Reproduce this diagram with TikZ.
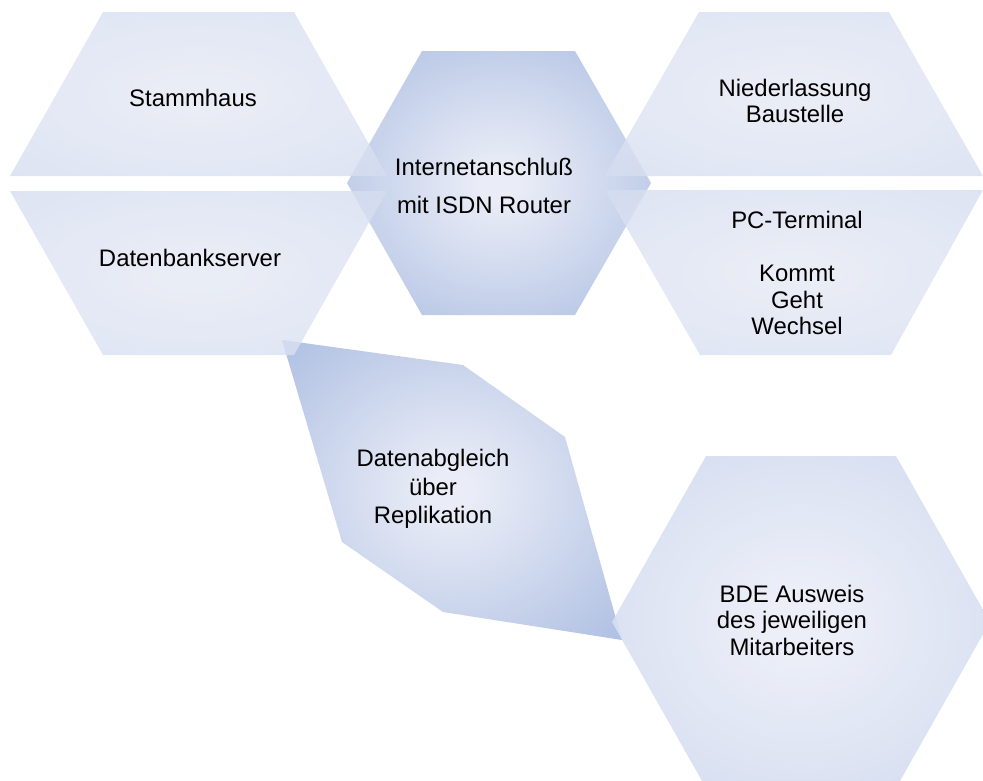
\documentclass[tikz,border=0pt]{standalone}
\usepackage{fontspec}
\setmainfont{Liberation Sans}
\definecolor{dkin}{RGB}{234,237,247}
\definecolor{dkout}{RGB}{162,182,222}
\definecolor{ltin}{RGB}{228,232,244}
\definecolor{ltout}{RGB}{206,216,237}
\definecolor{mdin}{RGB}{234,237,247}
\definecolor{mdout}{RGB}{192,206,234}
\pgfdeclareradialshading{darkrad}{\pgfpoint{0bp}{0bp}}{color(0bp)=(dkin); color(3bp)=(dkin); color(42bp)=(dkout); color(80bp)=(dkout)}
\pgfdeclareradialshading{lightrad}{\pgfpoint{0bp}{0bp}}{color(0bp)=(ltin); color(5bp)=(ltin); color(50bp)=(ltout); color(80bp)=(ltout)}
\pgfdeclareradialshading{medrad}{\pgfpoint{0bp}{0bp}}{color(0bp)=(mdin); color(5bp)=(mdin); color(48bp)=(mdout); color(80bp)=(mdout)}
\tikzset{
  darkhex/.style={shading=darkrad},
  lighthex/.style={shading=lightrad, fill opacity=0.8},
  medhex/.style={shading=medrad, fill opacity=0.9},
  lbl/.style={font=\fontsize{23.9}{25.5}\selectfont, align=center, inner sep=0pt, text=black}
}
\begin{document}
\begin{tikzpicture}[x=1pt,y=-1pt]
\useasboundingbox (0,0) rectangle (983,780);
\begin{scope}
\clip (0,0) rectangle (983,780);
% central hexagon
\shade[darkhex] (422,51) -- (575,51) -- (651,183) -- (575,315) -- (422,315) -- (347,183) -- cycle;
% replication shape
\shade[darkhex] (282,340) -- (463,365) -- (565,437) -- (622,640) -- (443,612) -- (342,542) -- cycle;
% left hexagon halves
\shade[lighthex] (103,12) -- (294,12) -- (387,176) -- (10,176) -- cycle;
\shade[lighthex] (10,191) -- (387,191) -- (294,355) -- (103,355) -- cycle;
% right hexagon halves
\shade[lighthex] (699,12) -- (889,12) -- (983,176) -- (605,176) -- cycle;
\shade[lighthex] (605,190) -- (983,190) -- (891,355) -- (700,355) -- cycle;
% bottom right hexagon
\shade[medhex] (706,456) -- (896,456) -- (990,622) -- (896,788) -- (706,788) -- (612,622) -- cycle;
\end{scope}
% labels
\node[lbl] (stamm) at (193,98) {Stammhaus};
\node[lbl] (dbserver) at (190,258) {Datenbankserver};
\node[lbl] (nieder) at (795,101) {Niederlassung\\Baustelle};
\node[lbl, font=\fontsize{23.9}{26.5}\selectfont] (pcterm) at (797,273) {PC-Terminal\\[26.5pt]Kommt\\Geht\\Wechsel};
\node[lbl, font=\fontsize{23.9}{38}\selectfont] (inet) at (484,186) {Internetanschluß\\mit ISDN Router};
\node[lbl, font=\fontsize{23.9}{28.5}\selectfont] (repl) at (433,489) {Datenabgleich\\über\\Replikation};
\node[lbl, font=\fontsize{23.9}{26.5}\selectfont] (bde) at (792,620) {BDE Ausweis\\des jeweiligen\\Mitarbeiters};
\end{tikzpicture}
\end{document}
